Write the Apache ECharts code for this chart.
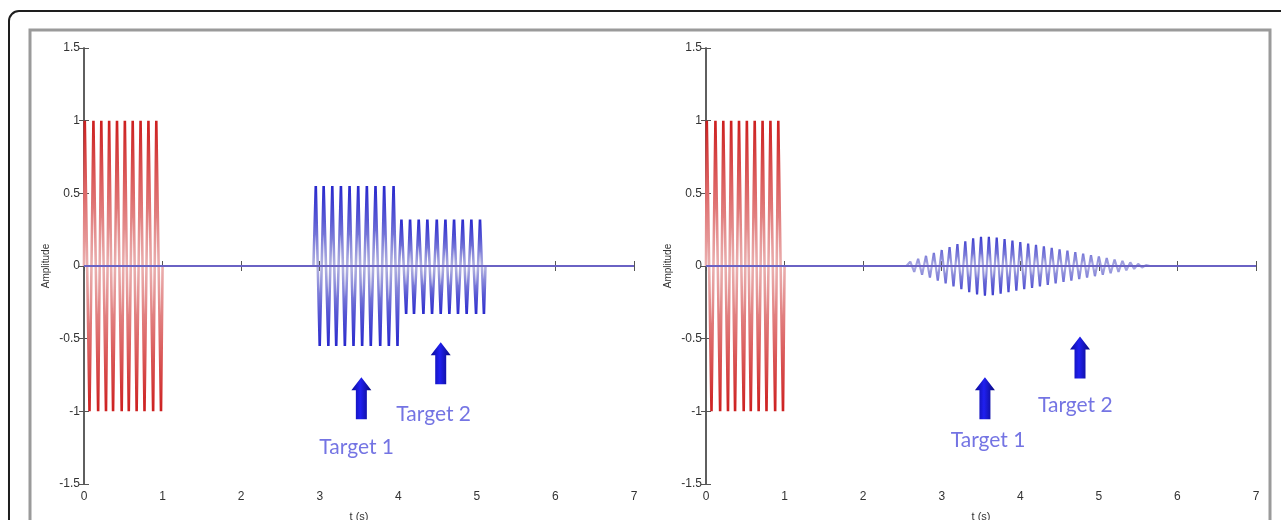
<!DOCTYPE html>
<html>
<head>
<meta charset="utf-8">
<script src="https://cdn.jsdelivr.net/npm/echarts@6/dist/echarts.min.js"></script>
<style>
  html, body { margin: 0; background: #fff; }
  #chart { width: 1281px; height: 520px; }
</style>
</head>
<body>
<div id="chart"></div>
<script>
// axis ticks
const xTicks = [0, 1, 2, 3, 4, 5, 6, 7]
const yTicks = [-1.5, -1, -0.5, 0, 0.5, 1, 1.5]

// transmitted pulse (same in both panels), extrema
const txPulse = [
  [0, 0], [0.01, 1], [0.07, -1], [0.12, 1], [0.18, -1], [0.22, 1], [0.28, -1],
  [0.32, 1], [0.37, -1], [0.42, 1], [0.48, -1], [0.52, 1], [0.57, -1],
  [0.62, 1], [0.67, -1], [0.72, 1], [0.77, -1], [0.82, 1], [0.88, -1],
  [0.92, 1], [0.98, -1], [1.0, 0]
]

// left panel echoes: target 1 then target 2
const echoT1 = [
  [2.92, 0], [2.95, 0.55], [3.0, -0.55], [3.05, 0.55], [3.11, -0.55],
  [3.16, 0.55], [3.21, -0.55], [3.27, 0.55], [3.32, -0.55], [3.38, 0.55],
  [3.43, -0.55], [3.49, 0.55], [3.54, -0.55], [3.6, 0.55], [3.65, -0.55],
  [3.71, 0.55], [3.77, -0.55], [3.82, 0.55], [3.88, -0.55], [3.94, 0.55],
  [3.99, -0.55], [4.01, 0]
]
const echoT2 = [
  [4.01, 0], [4.04, 0.32], [4.1, -0.33], [4.15, 0.32], [4.2, -0.33],
  [4.26, 0.32], [4.32, -0.33], [4.37, 0.32], [4.43, -0.33], [4.49, 0.32],
  [4.54, -0.33], [4.6, 0.32], [4.65, -0.33], [4.71, 0.32], [4.76, -0.33],
  [4.82, 0.32], [4.87, -0.33], [4.93, 0.32], [4.99, -0.33], [5.04, 0.32],
  [5.09, -0.33], [5.11, 0]
]

// right panel: overlapping echoes, diamond-shaped envelope
const echoMerged = [
  [2.55, 0], [2.6, 0.03], [2.65, -0.04], [2.7, 0.05], [2.75, -0.06],
  [2.8, 0.07], [2.85, -0.08], [2.9, 0.09], [2.95, -0.1], [3.0, 0.11],
  [3.05, -0.12], [3.1, 0.13], [3.15, -0.14], [3.2, 0.15], [3.25, -0.16],
  [3.3, 0.17], [3.35, -0.18], [3.4, 0.19], [3.45, -0.195], [3.5, 0.2],
  [3.55, -0.205], [3.6, 0.2], [3.65, -0.2], [3.7, 0.195], [3.75, -0.19],
  [3.8, 0.185], [3.85, -0.18], [3.9, 0.175], [3.95, -0.17], [4.0, 0.165],
  [4.05, -0.16], [4.1, 0.155], [4.15, -0.15], [4.2, 0.145], [4.25, -0.14],
  [4.3, 0.135], [4.35, -0.13], [4.4, 0.125], [4.45, -0.12], [4.5, 0.115],
  [4.55, -0.11], [4.6, 0.105], [4.65, -0.1], [4.7, 0.095], [4.75, -0.09],
  [4.8, 0.085], [4.85, -0.08], [4.9, 0.075], [4.95, -0.07], [5.0, 0.065],
  [5.05, -0.06], [5.1, 0.055], [5.15, -0.05], [5.2, 0.045], [5.25, -0.04],
  [5.3, 0.035], [5.35, -0.03], [5.4, 0.025], [5.45, -0.02], [5.5, 0.015],
  [5.55, -0.01], [5.6, 0.006], [5.65, 0]
]

const baseline = [[0, 0], [7, 0]]

// annotations: arrow positions and label positions [t, amplitude]
const leftArrows = [[3.53, -0.91], [4.54, -0.67]]
const leftLabels = [[3.47, -1.25, "Target 1"], [4.45, -1.02, "Target 2"]]
const rightArrows = [[3.55, -0.91], [4.76, -0.63]]
const rightLabels = [[3.59, -1.2, "Target 1"], [4.7, -0.96, "Target 2"]]

const chart = echarts.init(document.getElementById("chart"))

const axisColor = "#555"
const tickFont = { color: "#333", fontSize: 12, fontFamily: "Liberation Sans, Arial" }

function stripe(dark, mid, light) {
  return new echarts.graphic.LinearGradient(0, 0, 0, 1, [
    { offset: 0, color: dark },
    { offset: 0.22, color: mid },
    { offset: 0.5, color: light },
    { offset: 0.78, color: mid },
    { offset: 1, color: dark },
  ])
}

const arrowPath = "path://M10,0 L20,13 L15.5,13 L15.5,42 L4.5,42 L4.5,13 L0,13 Z"
const arrowColor = new echarts.graphic.LinearGradient(0, 0, 1, 0, [
  { offset: 0, color: "#0a0a96" },
  { offset: 0.45, color: "#2020f0" },
  { offset: 1, color: "#08087c" },
])

const grids = [
  { left: 84, top: 48, width: 550, height: 436, outerBoundsMode: "none" },
  { left: 706, top: 48, width: 550, height: 436, outerBoundsMode: "none" },
]

const xAxis = []
const yAxis = []
grids.forEach((g, i) => {
  const common = {
    gridIndex: i,
    min: xTicks[0],
    max: xTicks[xTicks.length - 1],
    interval: 1,
    type: "value",
    axisLine: { lineStyle: { color: axisColor, width: 1.5 } },
    axisTick: { inside: true, length: 5, lineStyle: { color: axisColor } },
    splitLine: { show: false },
  }
  xAxis.push({
    ...common,
    position: "bottom",
    name: "t (s)",
    nameLocation: "middle",
    nameGap: 27,
    nameTextStyle: { color: "#333", fontSize: 11, fontFamily: "Liberation Sans, Arial" },
    axisLabel: { ...tickFont, margin: 7 },
  })
  xAxis.push({ ...common, position: "top", axisLabel: { show: false } })

  const ycommon = {
    gridIndex: i,
    type: "value",
    min: yTicks[0],
    max: yTicks[yTicks.length - 1],
    interval: 0.5,
    axisLine: { lineStyle: { color: axisColor, width: 1.5 } },
    axisTick: { inside: true, length: 5, lineStyle: { color: axisColor } },
    splitLine: { show: false },
  }
  yAxis.push({
    ...ycommon,
    position: "left",
    name: "Amplitude",
    nameLocation: "middle",
    nameGap: 33,
    nameTextStyle: { color: "#333", fontSize: 10, fontFamily: "Liberation Sans, Arial" },
    axisLabel: { ...tickFont, margin: 4 },
  })
  yAxis.push({ ...ycommon, position: "right", axisLabel: { show: false } })
})

function signal(data, panel, color, z, width) {
  return {
    type: "line",
    data: data,
    xAxisIndex: panel * 2,
    yAxisIndex: panel * 2,
    showSymbol: false,
    symbol: "none",
    z: z,
    lineStyle: { color: color, width: width },
  }
}

function arrows(data, panel) {
  return {
    type: "scatter",
    data: data,
    xAxisIndex: panel * 2,
    yAxisIndex: panel * 2,
    symbol: arrowPath,
    symbolSize: [20, 42],
    itemStyle: { color: arrowColor, opacity: 1 },
    z: 10,
  }
}

function labels(data, panel) {
  return {
    type: "scatter",
    data: data,
    xAxisIndex: panel * 2,
    yAxisIndex: panel * 2,
    symbolSize: 1,
    itemStyle: { color: "rgba(0,0,0,0)" },
    label: {
      show: true,
      position: "inside",
      formatter: (p) => p.data[2],
      color: "#5151dc",
      fontSize: 21,
      fontFamily: "Lato, Open Sans, sans-serif",
    },
    z: 10,
  }
}

const redStripe = () => stripe("#cc1c1c", "#dc6060", "#eab0b0")
const blueStripe = () => stripe("#2424cc", "#5858d4", "#b4b4e0")

const option = {
  animation: false,
  backgroundColor: "#fff",
  graphic: [
    {
      type: "rect",
      shape: { x: 9, y: 11, width: 1300, height: 560, r: 10 },
      style: { fill: "none", stroke: "#1e1e1e", lineWidth: 2 },
      silent: true,
    },
    {
      type: "rect",
      shape: { x: 30, y: 30, width: 1240, height: 540 },
      style: { fill: "none", stroke: "#9a9a9a", lineWidth: 3 },
      silent: true,
    },
  ],
  grid: grids,
  xAxis: xAxis,
  yAxis: yAxis,
  series: [
    signal(txPulse, 0, redStripe(), 2, 2.6),
    signal(echoT1, 0, blueStripe(), 2, 2.6),
    signal(echoT2, 0, blueStripe(), 2, 2.6),
    signal(baseline, 0, "#6a62c4", 3, 2),
    arrows(leftArrows, 0),
    labels(leftLabels, 0),

    signal(txPulse, 1, redStripe(), 2, 2.6),
    signal(echoMerged, 1, stripe("#3434cc", "#6060d4", "#aeaee0"), 2, 2.2),
    signal(baseline, 1, "#6a62c4", 3, 2),
    arrows(rightArrows, 1),
    labels(rightLabels, 1),
  ],
}

chart.setOption(option)
</script>
</body>
</html>
